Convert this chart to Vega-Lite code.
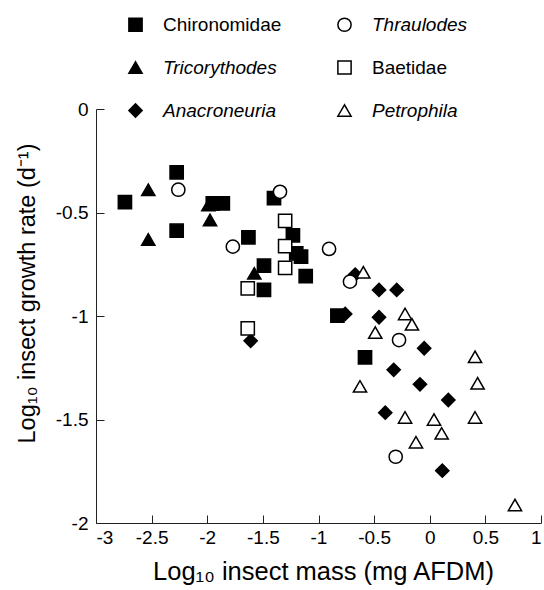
{
  "$schema": "https://vega.github.io/schema/vega-lite/v6.json",
  "width": 445,
  "height": 414,
  "autosize": {"type": "none"},
  "padding": {"left": 96, "top": 109, "right": 3, "bottom": 67},
  "background": "white",
  "config": {
    "font": "Liberation Sans",
    "view": {"stroke": null},
    "axis": {
      "grid": false,
      "domainColor": "#222222",
      "tickColor": "#222222",
      "tickSize": -8,
      "labelFont": "Liberation Sans",
      "labelFontSize": 19,
      "labelColor": "black",
      "titleFont": "Liberation Sans",
      "titleFontSize": 24,
      "titleFontWeight": "normal",
      "titleColor": "black"
    },
    "legend": {
      "orient": "none",
      "legendX": 30,
      "legendY": -94,
      "columns": 2,
      "padding": 0,
      "labelFont": "Liberation Sans",
      "labelFontSize": 19,
      "labelColor": "black",
      "symbolStrokeWidth": 1.5,
      "rowPadding": 22,
      "columnPadding": 52,
      "labelOffset": 18
    }
  },
  "data": {
    "values": [
      {"species": "Tricorythodes", "mass": -2.53, "growth": -0.39},
      {"species": "Tricorythodes", "mass": -2.53, "growth": -0.63},
      {"species": "Tricorythodes", "mass": -1.99, "growth": -0.464},
      {"species": "Tricorythodes", "mass": -1.975, "growth": -0.536},
      {"species": "Tricorythodes", "mass": -1.577, "growth": -0.794},
      {"species": "Chironomidae", "mass": -2.74, "growth": -0.45},
      {"species": "Chironomidae", "mass": -2.275, "growth": -0.306},
      {"species": "Chironomidae", "mass": -2.275, "growth": -0.588},
      {"species": "Chironomidae", "mass": -1.95, "growth": -0.456},
      {"species": "Chironomidae", "mass": -1.86, "growth": -0.456},
      {"species": "Chironomidae", "mass": -1.4, "growth": -0.43},
      {"species": "Chironomidae", "mass": -1.63, "growth": -0.62},
      {"species": "Chironomidae", "mass": -1.23, "growth": -0.61},
      {"species": "Chironomidae", "mass": -1.2, "growth": -0.697},
      {"species": "Chironomidae", "mass": -1.157, "growth": -0.713},
      {"species": "Chironomidae", "mass": -1.115, "growth": -0.807},
      {"species": "Chironomidae", "mass": -1.49, "growth": -0.757},
      {"species": "Chironomidae", "mass": -1.49, "growth": -0.874},
      {"species": "Chironomidae", "mass": -0.83, "growth": -0.998},
      {"species": "Chironomidae", "mass": -0.582, "growth": -1.2},
      {"species": "Anacroneuria", "mass": -1.61, "growth": -1.12},
      {"species": "Anacroneuria", "mass": -0.67, "growth": -0.8},
      {"species": "Anacroneuria", "mass": -0.456, "growth": -0.874},
      {"species": "Anacroneuria", "mass": -0.297, "growth": -0.874},
      {"species": "Anacroneuria", "mass": -0.76, "growth": -0.99},
      {"species": "Anacroneuria", "mass": -0.456, "growth": -1.006},
      {"species": "Anacroneuria", "mass": -0.05, "growth": -1.156},
      {"species": "Anacroneuria", "mass": -0.324, "growth": -1.26},
      {"species": "Anacroneuria", "mass": -0.088, "growth": -1.33},
      {"species": "Anacroneuria", "mass": 0.167, "growth": -1.406},
      {"species": "Anacroneuria", "mass": -0.4, "growth": -1.467},
      {"species": "Anacroneuria", "mass": 0.113, "growth": -1.747},
      {"species": "Baetidae", "mass": -1.3, "growth": -0.54},
      {"species": "Baetidae", "mass": -1.3, "growth": -0.662},
      {"species": "Baetidae", "mass": -1.3, "growth": -0.767},
      {"species": "Baetidae", "mass": -1.636, "growth": -0.866},
      {"species": "Baetidae", "mass": -1.636, "growth": -1.06},
      {"species": "Thraulodes", "mass": -2.26, "growth": -0.39},
      {"species": "Thraulodes", "mass": -1.77, "growth": -0.665},
      {"species": "Thraulodes", "mass": -1.346, "growth": -0.4},
      {"species": "Thraulodes", "mass": -0.905, "growth": -0.676},
      {"species": "Thraulodes", "mass": -0.717, "growth": -0.834},
      {"species": "Thraulodes", "mass": -0.276, "growth": -1.116},
      {"species": "Thraulodes", "mass": -0.306, "growth": -1.68},
      {"species": "Petrophila", "mass": -0.597, "growth": -0.789},
      {"species": "Petrophila", "mass": -0.222, "growth": -0.99},
      {"species": "Petrophila", "mass": -0.16, "growth": -1.04},
      {"species": "Petrophila", "mass": -0.49, "growth": -1.08},
      {"species": "Petrophila", "mass": 0.407, "growth": -1.197},
      {"species": "Petrophila", "mass": -0.627, "growth": -1.34},
      {"species": "Petrophila", "mass": 0.43, "growth": -1.325},
      {"species": "Petrophila", "mass": -0.222, "growth": -1.49},
      {"species": "Petrophila", "mass": 0.038, "growth": -1.5},
      {"species": "Petrophila", "mass": 0.407, "growth": -1.49},
      {"species": "Petrophila", "mass": 0.107, "growth": -1.567},
      {"species": "Petrophila", "mass": -0.124, "growth": -1.61},
      {"species": "Petrophila", "mass": 0.766, "growth": -1.913}
    ]
  },
  "mark": {"type": "point", "stroke": "black", "strokeWidth": 1.5, "opacity": 1},
  "encoding": {
    "x": {
      "field": "mass",
      "type": "quantitative",
      "scale": {"domain": [-3, 1], "nice": false, "zero": false},
      "axis": {
        "title": "Log₁₀ insect mass (mg AFDM)",
        "values": [-3, -2.5, -2, -1.5, -1, -0.5, 0, 0.5, 1],
        "labelExpr": "'' + datum.value",
        "labelPadding": 13,
        "titleFontSize": 25.5,
        "titleX": 227,
        "titleY": 48,
        "titleBaseline": "middle"
      }
    },
    "y": {
      "field": "growth",
      "type": "quantitative",
      "scale": {"domain": [-2, 0], "nice": false, "zero": false},
      "axis": {
        "title": "Log₁₀ insect growth rate (d⁻¹)",
        "values": [-2, -1.5, -1, -0.5, 0],
        "labelExpr": "'' + datum.value",
        "labelPadding": 16,
        "titleFontSize": 23.5,
        "titleX": -69,
        "titleY": 184,
        "titleBaseline": "middle",
        "titleAnchor": "middle"
      }
    },
    "shape": {
      "field": "species",
      "type": "nominal",
      "scale": {
        "domain": ["Chironomidae", "Tricorythodes", "Anacroneuria", "Thraulodes", "Baetidae", "Petrophila"],
        "range": ["square", "triangle-up", "diamond", "circle", "square", "triangle-up"]
      },
      "legend": {
        "title": null,
        "labelFontStyle": {"expr": "datum.value === 'Chironomidae' || datum.value === 'Baetidae' ? 'normal' : 'italic'"}
      }
    },
    "fill": {
      "field": "species",
      "type": "nominal",
      "scale": {
        "domain": ["Chironomidae", "Tricorythodes", "Anacroneuria", "Thraulodes", "Baetidae", "Petrophila"],
        "range": ["black", "black", "black", "white", "white", "white"]
      },
      "legend": {
        "title": null,
        "labelFontStyle": {"expr": "datum.value === 'Chironomidae' || datum.value === 'Baetidae' ? 'normal' : 'italic'"}
      }
    },
    "size": {
      "field": "species",
      "type": "nominal",
      "scale": {
        "domain": ["Chironomidae", "Tricorythodes", "Anacroneuria", "Thraulodes", "Baetidae", "Petrophila"],
        "range": [175, 175, 175, 150, 120, 110]
      },
      "legend": {
        "title": null,
        "labelFontStyle": {"expr": "datum.value === 'Chironomidae' || datum.value === 'Baetidae' ? 'normal' : 'italic'"}
      }
    }
  }
}
